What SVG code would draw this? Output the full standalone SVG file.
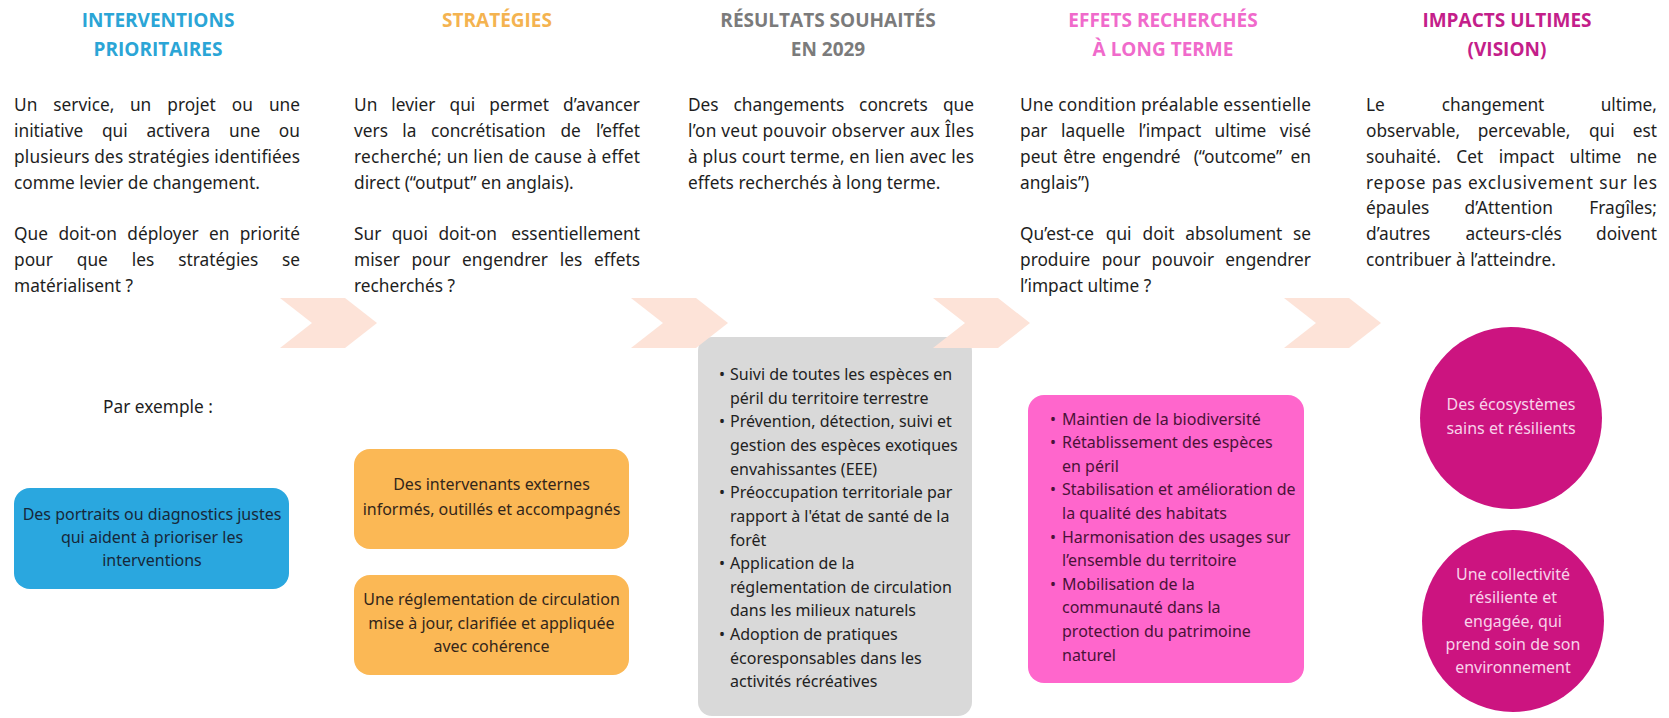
<svg xmlns="http://www.w3.org/2000/svg" width="1669" height="718" viewBox="0 0 1669 718">
<style>
  .title{font-family:"Open Sans","Noto Sans",sans-serif;font-weight:700;font-size:19px;text-anchor:middle}
  .body{font-family:"Noto Sans","Liberation Sans",sans-serif;font-size:17.3px;fill:#1e1e1e}
  .end{text-anchor:end}
  .box{font-family:"Noto Sans","Liberation Sans",sans-serif;font-size:16px}
  .c{text-anchor:middle}
  .chev{fill:#fde3d8}
</style>
<rect width="1669" height="718" fill="#ffffff"/>

<g id="col-interventions">
  <text class="title" fill="#2ba5d6"><tspan x="158" y="27">INTERVENTIONS</tspan><tspan x="158" y="56">PRIORITAIRES</tspan></text>
  <g class="body">
    <text y="111"><tspan x="14">Un</tspan><tspan x="53.3">service,</tspan><tspan x="129.9">un</tspan><tspan x="167.3">projet</tspan><tspan x="231.8">ou</tspan></text>
    <text class="end" x="300" y="111">une</text>
    <text y="137"><tspan x="14">initiative</tspan><tspan x="101.9">qui</tspan><tspan x="146.4">activera</tspan><tspan x="229.1">une</tspan></text>
    <text class="end" x="300" y="137">ou</text>
    <text x="14" y="163" textLength="286" lengthAdjust="spacing">plusieurs des stratégies identifiées</text>
    <text x="14" y="189">comme levier de changement.</text>
    <text y="240"><tspan x="14">Que</tspan><tspan x="58.4">doit-on</tspan><tspan x="127.3">déployer</tspan><tspan x="209.1">en</tspan></text>
    <text class="end" x="300" y="240">priorité</text>
    <text y="266"><tspan x="14">pour</tspan><tspan x="76.8">que</tspan><tspan x="131.8">les</tspan><tspan x="178.3">stratégies</tspan></text>
    <text class="end" x="300" y="266">se</text>
    <text x="14" y="292">matérialisent ?</text>
  </g>
</g>

<g id="col-strategies">
  <text class="title" fill="#f4b350" x="497" y="27">STRATÉGIES</text>
  <g class="body">
    <text y="111"><tspan x="354">Un</tspan><tspan x="391.3">levier</tspan><tspan x="449.5">qui</tspan><tspan x="489.3">permet</tspan></text>
    <text class="end" x="640" y="111">d’avancer</text>
    <text y="137"><tspan x="354">vers</tspan><tspan x="402.3">la</tspan><tspan x="430.9">concrétisation</tspan><tspan x="560.4">de</tspan></text>
    <text class="end" x="640" y="137">l’effet</text>
    <text x="354" y="163" textLength="286" lengthAdjust="spacing">recherché; un lien de cause à effet</text>
    <text x="354" y="189">direct (“output” en anglais).</text>
    <text y="240"><tspan x="354">Sur</tspan><tspan x="391.7">quoi</tspan><tspan x="438.4">doit-on</tspan></text>
    <text class="end" x="640" y="240">essentiellement</text>
    <text y="266"><tspan x="354">miser</tspan><tspan x="411.4">pour</tspan><tspan x="462.1">engendrer</tspan><tspan x="559.8">les</tspan></text>
    <text class="end" x="640" y="266">effets</text>
    <text x="354" y="292">recherchés ?</text>
  </g>
</g>

<g id="col-resultats">
  <text class="title" fill="#7b7b7b"><tspan x="828" y="27">RÉSULTATS SOUHAITÉS</tspan><tspan x="828" y="56">EN 2029</tspan></text>
  <g class="body">
    <text y="111"><tspan x="688">Des</tspan><tspan x="733.5">changements</tspan><tspan x="859.1">concrets</tspan></text>
    <text class="end" x="974" y="111">que</text>
    <text x="688" y="137" textLength="286" lengthAdjust="spacing">l’on veut pouvoir observer aux Îles</text>
    <text x="688" y="163" textLength="286" lengthAdjust="spacing">à plus court terme, en lien avec les</text>
    <text x="688" y="189">effets recherchés à long terme.</text>
  </g>
</g>

<g id="col-effets">
  <text class="title" fill="#f06acb"><tspan x="1163" y="27">EFFETS RECHERCHÉS</tspan><tspan x="1163" y="56">À LONG TERME</tspan></text>
  <g class="body">
    <text x="1020" y="111" textLength="291" lengthAdjust="spacing">Une condition préalable essentielle</text>
    <text y="137"><tspan x="1020">par</tspan><tspan x="1061">laquelle</tspan><tspan x="1138.4">l’impact</tspan><tspan x="1214.6">ultime</tspan></text>
    <text class="end" x="1311" y="137">visé</text>
    <text y="163"><tspan x="1020">peut</tspan><tspan x="1063.2">être</tspan><tspan x="1101.9">engendré</tspan><tspan x="1193.7">(“outcome”</tspan></text>
    <text class="end" x="1311" y="163">en</text>
    <text x="1020" y="189">anglais”)</text>
    <text y="240"><tspan x="1020">Qu’est-ce</tspan><tspan x="1105.8">qui</tspan><tspan x="1142.6">doit</tspan><tspan x="1185.3">absolument</tspan></text>
    <text class="end" x="1311" y="240">se</text>
    <text y="266"><tspan x="1020">produire</tspan><tspan x="1101.7">pour</tspan><tspan x="1151.6">pouvoir</tspan></text>
    <text class="end" x="1311" y="266">engendrer</text>
    <text x="1020" y="292">l’impact ultime ?</text>
  </g>
</g>

<g id="col-impacts">
  <text class="title" fill="#c41e8a"><tspan x="1507" y="27">IMPACTS ULTIMES</tspan><tspan x="1507" y="56">(VISION)</tspan></text>
  <g class="body">
    <text y="111"><tspan x="1366">Le</tspan><tspan x="1441.8">changement</tspan></text>
    <text class="end" x="1657" y="111">ultime,</text>
    <text y="137"><tspan x="1366">observable,</tspan><tspan x="1477.7">percevable,</tspan><tspan x="1588.9">qui</tspan></text>
    <text class="end" x="1657" y="137">est</text>
    <text y="163"><tspan x="1366">souhaité.</tspan><tspan x="1456.3">Cet</tspan><tspan x="1498.7">impact</tspan><tspan x="1569.5">ultime</tspan></text>
    <text class="end" x="1657" y="163">ne</text>
    <text x="1366" y="189" textLength="291" lengthAdjust="spacing">repose pas exclusivement sur les</text>
    <text y="214"><tspan x="1366">épaules</tspan><tspan x="1464.6">d’Attention</tspan></text>
    <text class="end" x="1657" y="214">Fragîles;</text>
    <text y="240"><tspan x="1366">d’autres</tspan><tspan x="1465.4">acteurs-clés</tspan></text>
    <text class="end" x="1657" y="240">doivent</text>
    <text x="1366" y="266">contribuer à l’atteindre.</text>
  </g>
</g>

<g id="par-exemple">
  <text class="body c" x="158" y="413">Par exemple :</text>
</g>

<g id="node-portraits">
  <rect x="14" y="488" width="275" height="101" rx="16" fill="#2aa7df"/>
  <text class="box c" fill="#17283a"><tspan x="152" y="520">Des portraits ou diagnostics justes</tspan><tspan x="152" y="543">qui aident à prioriser les</tspan><tspan x="152" y="566">interventions</tspan></text>
</g>

<g id="node-intervenants">
  <rect x="354" y="449" width="275" height="100" rx="16" fill="#fbb855"/>
  <text class="box c" fill="#33261a"><tspan x="491.5" y="490">Des intervenants externes</tspan><tspan x="491.5" y="515">informés, outillés et accompagnés</tspan></text>
</g>

<g id="node-reglementation">
  <rect x="354" y="575" width="275" height="100" rx="16" fill="#fbb855"/>
  <text class="box c" fill="#33261a"><tspan x="491.5" y="605">Une réglementation de circulation</tspan><tspan x="491.5" y="629">mise à jour, clarifiée et appliquée</tspan><tspan x="491.5" y="652">avec cohérence</tspan></text>
</g>

<g id="node-resultats">
  <rect x="698" y="337" width="274" height="379" rx="14" fill="#d9d9d9"/>
  <g class="box" fill="#222222">
    <text x="719" y="380">•</text>
    <text x="730" y="380">Suivi de toutes les espèces en</text>
    <text x="730" y="404">péril du territoire terrestre</text>
    <text x="719" y="427">•</text>
    <text x="730" y="427">Prévention, détection, suivi et</text>
    <text x="730" y="451">gestion des espèces exotiques</text>
    <text x="730" y="475">envahissantes (EEE)</text>
    <text x="719" y="498">•</text>
    <text x="730" y="498">Préoccupation territoriale par</text>
    <text x="730" y="522">rapport à l'état de santé de la</text>
    <text x="730" y="546">forêt</text>
    <text x="719" y="569">•</text>
    <text x="730" y="569">Application de la</text>
    <text x="730" y="593">réglementation de circulation</text>
    <text x="730" y="616">dans les milieux naturels</text>
    <text x="719" y="640">•</text>
    <text x="730" y="640">Adoption de pratiques</text>
    <text x="730" y="664">écoresponsables dans les</text>
    <text x="730" y="687">activités récréatives</text>
  </g>
</g>

<g id="node-effets">
  <rect x="1028" y="395" width="276" height="288" rx="16" fill="#ff66cc"/>
  <g class="box" fill="#4a1238">
    <text x="1050" y="425">•</text>
    <text x="1062" y="425">Maintien de la biodiversité</text>
    <text x="1050" y="448">•</text>
    <text x="1062" y="448">Rétablissement des espèces</text>
    <text x="1062" y="472">en péril</text>
    <text x="1050" y="495">•</text>
    <text x="1062" y="495">Stabilisation et amélioration de</text>
    <text x="1062" y="519">la qualité des habitats</text>
    <text x="1050" y="543">•</text>
    <text x="1062" y="543">Harmonisation des usages sur</text>
    <text x="1062" y="566">l’ensemble du territoire</text>
    <text x="1050" y="590">•</text>
    <text x="1062" y="590">Mobilisation de la</text>
    <text x="1062" y="613">communauté dans la</text>
    <text x="1062" y="637">protection du patrimoine</text>
    <text x="1062" y="661">naturel</text>
  </g>
</g>

<g id="node-ecosystemes">
  <circle cx="1511" cy="418" r="91" fill="#cc1480"/>
  <text class="box c" fill="#f8d2ea" font-size="15.5"><tspan x="1511" y="410">Des écosystèmes</tspan><tspan x="1511" y="434">sains et résilients</tspan></text>
</g>

<g id="node-collectivite">
  <circle cx="1513" cy="621" r="91" fill="#cc1480"/>
  <text class="box c" fill="#f8d2ea" font-size="15.5"><tspan x="1513" y="580">Une collectivité</tspan><tspan x="1513" y="603">résiliente et</tspan><tspan x="1513" y="627">engagée, qui</tspan><tspan x="1513" y="650">prend soin de son</tspan><tspan x="1513" y="673">environnement</tspan></text>
</g>

<g id="connectors">
  <polygon class="chev" points="280,298 345,298 377,323 345,348 280,348 312,323"/>
  <polygon class="chev" points="631,298 696,298 728,323 696,348 631,348 663,323"/>
  <polygon class="chev" points="933,298 998,298 1030,323 998,348 933,348 965,323"/>
  <polygon class="chev" points="1284,298 1349,298 1381,323 1349,348 1284,348 1316,323"/>
</g>
</svg>
